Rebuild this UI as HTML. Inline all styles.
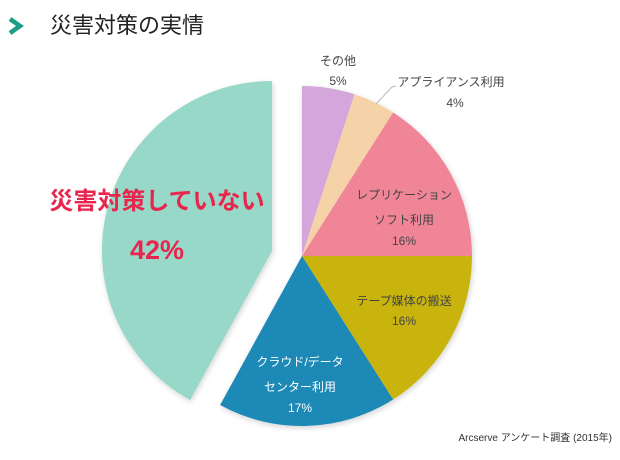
<!DOCTYPE html>
<html><head><meta charset="utf-8"><style>
html,body{margin:0;padding:0;background:#fff;}
svg{display:block;font-family:"Liberation Sans","Noto Sans CJK JP",sans-serif;}
</style></head><body>
<svg width="620" height="460" viewBox="0 0 620 460">
<defs>
<filter id="sh" x="-20%" y="-20%" width="140%" height="140%"><feGaussianBlur in="SourceAlpha" stdDeviation="3"/><feOffset dx="1" dy="2"/><feComponentTransfer><feFuncA type="linear" slope="0.18"/></feComponentTransfer><feMerge><feMergeNode/><feMergeNode in="SourceGraphic"/></feMerge></filter>
</defs>
<polyline points="10,19 20,26 10,33" fill="none" stroke="#1a9e86" stroke-width="4.5"/>
<text x="50" y="33" font-size="22" fill="#222">災害対策の実情</text>
<g filter="url(#sh)">
<path d="M302,256 L302,86 A170,170 0 0 1 354.5,94.3 Z" fill="#d5a6dc"/>
<path d="M302,256 L354.5,94.3 A170,170 0 0 1 393.1,112.5 Z" fill="#f6d2a8"/>
<path d="M302,256 L393.1,112.5 A170,170 0 0 1 472,256 Z" fill="#ef8597"/>
<path d="M302,256 L472,256 A170,170 0 0 1 393.1,399.5 Z" fill="#c8b40a"/>
<path d="M302,256 L393.1,399.5 A170,170 0 0 1 220.1,405 Z" fill="#1f89b7"/>
<path d="M272,251 L190.1,400 A170,170 0 0 1 272,81 Z" fill="#97d8c8"/>
</g>
<polyline points="376,104 392,87 396,86" fill="none" stroke="#bbb" stroke-width="1"/>
<g font-size="12" fill="#444" text-anchor="middle">
<text x="338" y="65">その他</text>
<text x="338" y="85">5%</text>
<text x="451" y="86">アプライアンス利用</text>
<text x="455" y="107">4%</text>
<text x="404" y="199">レプリケーション</text>
<text x="404" y="224">ソフト利用</text>
<text x="404" y="245">16%</text>
<text x="404" y="305">テープ媒体の搬送</text>
<text x="404" y="325">16%</text>
<text x="300" y="366" fill="#fff">クラウド/データ</text>
<text x="300" y="391" fill="#fff">センター利用</text>
<text x="300" y="412" fill="#fff">17%</text>
</g>
<text x="157" y="209" font-size="24" font-weight="bold" fill="#e8264d" text-anchor="middle">災害対策していない</text>
<text x="157" y="259" font-size="27" font-weight="bold" fill="#e8264d" text-anchor="middle">42%</text>
<text x="612" y="441" font-size="10" fill="#333" text-anchor="end">Arcserve アンケート調査 (2015年)</text>
</svg>
</body></html>
